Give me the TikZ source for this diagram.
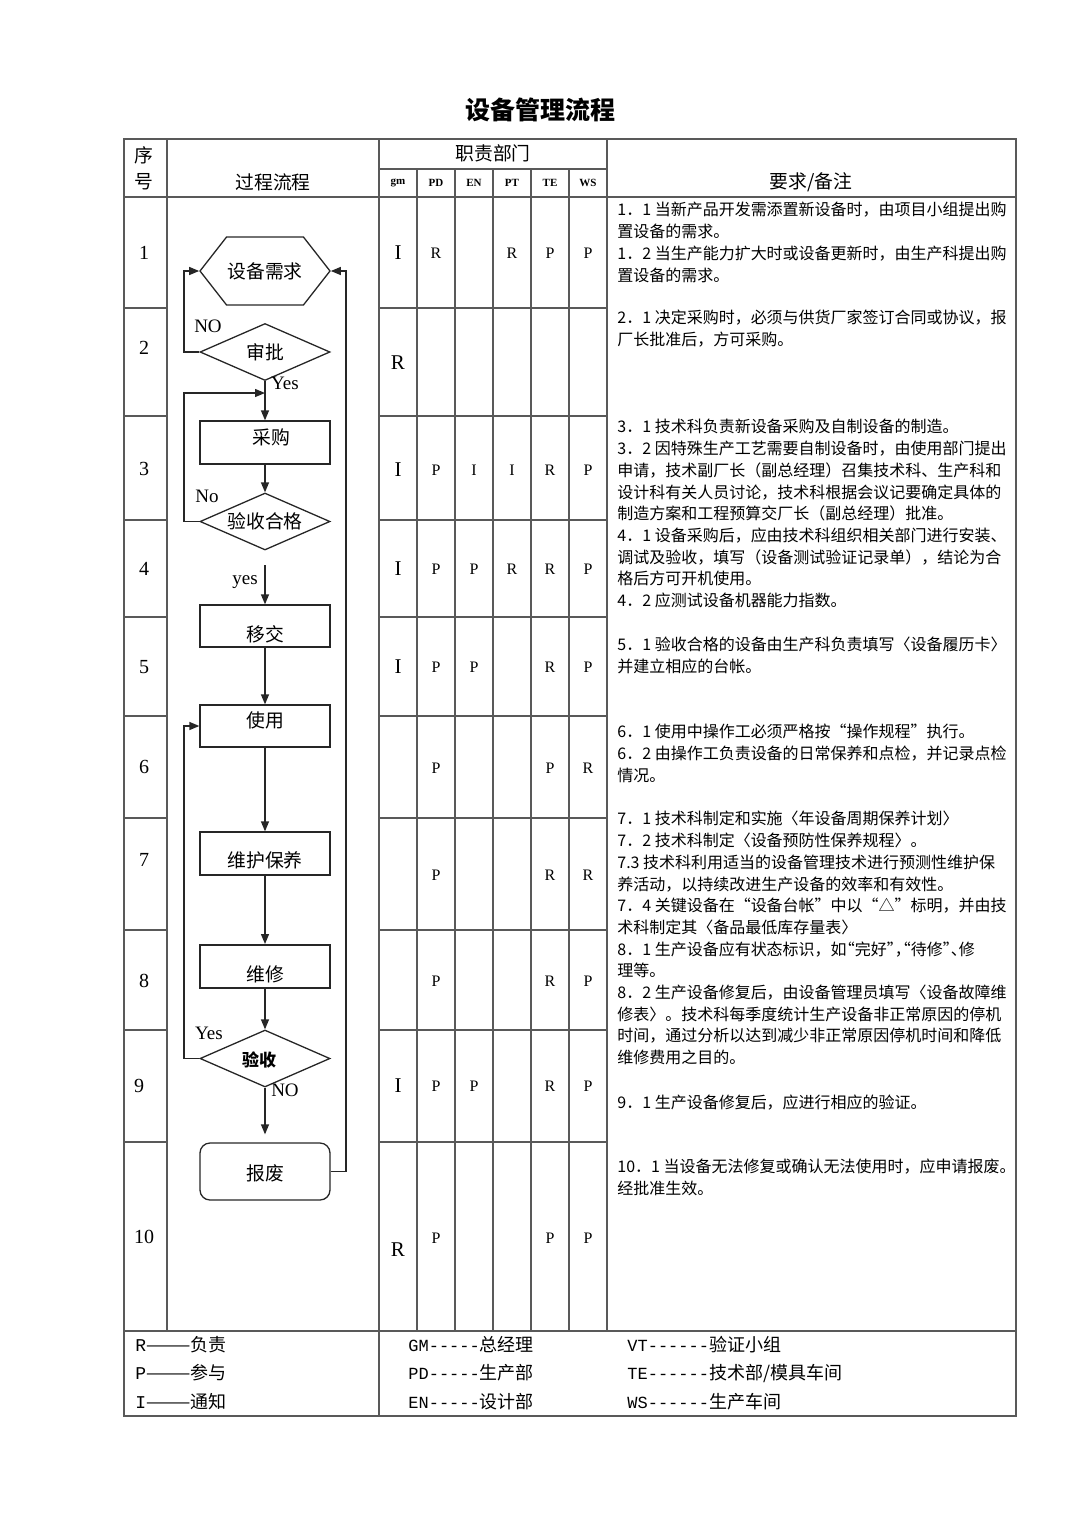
\documentclass[tikz,border=0pt]{standalone}
\usepackage{fontspec}
\setmainfont{Liberation Serif}
\newfontfamily\cjk{Noto Sans CJK SC}
\newfontfamily\lmono[Ligatures=TeXOff]{Liberation Mono}
\usepackage{tikz}
\usetikzlibrary{arrows.meta, shapes.geometric, shapes.symbols}
\newcommand{\boxtxt}[2]{\raisebox{#1}[0.8em][0.2em]{#2}}
\newcommand{\halfpunct}[1]{{\addfontfeature{RawFeature=+halt}#1}}

\begin{document}
\begin{tikzpicture}[x=0.5pt, y=-0.5pt,
  every node/.style={inner sep=0pt},
  tline/.style={draw=black!65, line width=0.6pt},
  flow/.style={draw=black!85, line width=0.65pt},
  arr/.style={flow, -{Triangle[length=5pt, width=4pt]}},
  box/.style={flow, rectangle, minimum width=65pt, minimum height=21.5pt, font=\cjk\fontsize{9.4}{11}\selectfont},
  dec/.style={box, diamond, aspect=2.28, minimum height=28.5pt},
  hexa/.style={box, signal, signal to=west and east, signal pointer angle=104, minimum height=34pt},
  yn/.style={font=\fontsize{9.5}{11}\selectfont},
  head/.style={font=\cjk\fontsize{9.4}{11}\selectfont},
  dept/.style={font=\bfseries\fontsize{5.5}{6}\selectfont},
  num/.style={font=\fontsize{10}{11}\selectfont},
  gmtxt/.style={font=\fontsize{10.5}{12}\selectfont},
  mtxt/.style={font=\fontsize{8}{9}\selectfont},
  note/.style={anchor=north west, align=left, font=\cjk\fontsize{8}{10.85}\selectfont},
  leg/.style={anchor=west, font=\cjk\fontsize{9}{10}\selectfont}]
  \useasboundingbox (0,0) rectangle (1080,1527);

  \node[font=\cjk\bfseries\fontsize{12.5}{14}\selectfont] (title) at (540,110) {设备管理流程};

  % table frame
  \draw[tline] (124,139) rectangle (1016,1416);
  \draw[tline] (167,139) -- (167,1331);
  \draw[tline] (379,139) -- (379,1416);
  \draw[tline] (607,139) -- (607,1331);
  \draw[tline] (379,169) -- (607,169);
  \draw[tline] (124,197) -- (1016,197);
  \draw[tline] (124,1331) -- (1016,1331);
  \foreach \x in {417,455,493,531,569}
    \draw[tline] (\x,169) -- (\x,1331);
  \foreach \y in {308,416,520,617,716,818,930,1030,1142} {
    \draw[tline] (124,\y) -- (167,\y);
    \draw[tline] (379,\y) -- (607,\y);
  }

  % header
  \node[head] (h1) at (144,155) {序};
  \node[head] (h2) at (144,182) {号};
  \node[head] (h3) at (273,182) {过程流程};
  \node[head] (h4) at (493,153) {职责部门};
  \node[head] (h5) at (811,182) {要求/备注};
  \foreach \x/\t [count=\k] in {398/gm,436/PD,474/EN,512/PT,550/TE,588/WS}
    \node[dept] (d\k) at (\x,183) {\t};

  % row numbers
  \foreach \x/\y/\t in {144/253/1,144/348/2,144/469/3,144/569/4,144/667/5,144/767/6,144/860/7,144/981/8,139/1086/9,144/1237/10}
    \node[num] (no\t) at (\x,\y) {\t};

  % responsibility matrix
  \foreach \y/\t [count=\k] in {253/I,363/R,470/I,569/I,667/I,1086/I,1250/R}
    \node[gmtxt] (gm\k) at (398,\y) {\t};
  \foreach \x/\y/\t [count=\k] in {436/253/R,512/253/R,550/253/P,588/253/P,
      436/470/P,474/470/I,512/470/I,550/470/R,588/470/P,
      436/569/P,474/569/P,512/569/R,550/569/R,588/569/P,
      436/667/P,474/667/P,550/667/R,588/667/P,
      436/768/P,550/768/P,588/768/R,
      436/875/P,550/875/R,588/875/R,
      436/981/P,550/981/R,588/981/P,
      436/1086/P,474/1086/P,550/1086/R,588/1086/P,
      436/1238/P,550/1238/P,588/1238/P}
    \node[mtxt] (m\k) at (\x,\y) {\t};

  % flow chart
  \node[hexa] (need) at (265,271) {设备需求};
  \node[dec] (approve) at (265,352) {审批};
  \node[box] (buy) at (265,442.5) {\boxtxt{2pt}{\hspace{6pt}采购}};
  \node[dec] (check) at (265,521.5) {验收合格};
  \node[box, minimum height=21pt] (hand) at (265,626) {\boxtxt{-5pt}{移交}};
  \node[box, minimum height=21pt] (use) at (265,726) {\boxtxt{2pt}{使用}};
  \node[box] (maint) at (265,853.5) {\boxtxt{-4pt}{维护保养}};
  \node[box, line width=1pt] (repair) at (265,966.5) {\boxtxt{-4.5pt}{维修}};
  \node[dec, font=\cjk\bfseries\fontsize{8.5}{10}\selectfont] (accept) at (265,1058.5) {\boxtxt{-1.5pt}{验收\hspace{6pt}}};
  \node[box, rounded corners=5pt, minimum height=28.5pt] (scrap) at (265,1171.5) {\boxtxt{-1.5pt}{报废}};
  \coordinate (backin) at (265,393);
  \coordinate (yesout) at (265,565);

  \draw[arr] (approve.west) -- (184,352) |- (need.west);
  \draw[arr] (approve.south) -- (buy.north);
  \draw[arr] (buy.south) -- (check.north);
  \draw[arr] (check.west) -- (184,521.5) |- (backin);
  \draw[arr] (yesout) -- (hand.north);
  \draw[arr] (hand.south) -- (use.north);
  \draw[arr] (use.south) -- (maint.north);
  \draw[arr] (maint.south) -- (repair.north);
  \draw[arr] (repair.south) -- (accept.north);
  \draw[arr] (accept.west) -- (184,1058.5) |- (use.west);
  \draw[arr, shorten >=4pt] (accept.south) -- (scrap.north);
  \draw[arr] (scrap.east) -- (346,1171.5) |- (need.east);

  \node[yn] (no1) at (208,326) {NO};
  \node[yn] (yes1) at (285,383) {Yes};
  \node[yn] (no2) at (207,496) {No};
  \node[yn] (yes2) at (245,582) {yes};
  \node[yn] (yes3) at (209,1033) {Yes};
  \node[yn] (no3) at (285,1090) {NO};

  % remarks
  \node[note] (r1) at (617,202) {1．1 当新产品开发需添置新设备时，由项目小组提出购\\置设备的需求。\\1．2 当生产能力扩大时或设备更新时，由生产科提出购\\置设备的需求。};
  \node[note] (r2) at (617,310) {2．1 决定采购时，必须与供货厂家签订合同或协议，报\\厂长批准后，方可采购。};
  \node[note] (r3) at (617,419) {3．1 技术科负责新设备采购及自制设备的制造。\\3．2 因特殊生产工艺需要自制设备时，由使用部门提出\\申请，技术副厂长（副总经理）召集技术科、生产科和\\设计科有关人员讨论，技术科根据会议记要确定具体的\\制造方案和工程预算交厂长（副总经理）批准。\\4．1 设备采购后，应由技术科组织相关部门进行安装、\\调试及验收，填写（设备测试验证记录单），结论为合\\格后方可开机使用。\\4．2 应测试设备机器能力指数。};
  \node[note] (r5) at (617,637) {5．1 验收合格的设备由生产科负责填写〈设备履历卡〉\\并建立相应的台帐。};
  \node[note] (r6) at (617,724) {6．1 使用中操作工必须严格按“操作规程”执行。\\6．2 由操作工负责设备的日常保养和点检，并记录点检\\情况。};
  \node[note] (r7) at (617,811) {7．1 技术科制定和实施〈年设备周期保养计划〉\\7．2 技术科制定〈设备预防性保养规程〉。\\7.3 技术科利用适当的设备管理技术进行预测性维护保\\养活动，以持续改进生产设备的效率和有效性。\\7．4 关键设备在“设备台帐”中以“△”标明，并由技\\术科制定其〈备品最低库存量表〉\\8．1 生产设备应有状态标识，如\halfpunct{“完好”，“待修”、}修\\理等。\\8．2 生产设备修复后，由设备管理员填写〈设备故障维\\修表〉。技术科每季度统计生产设备非正常原因的停机\\时间，通过分析以达到减少非正常原因停机时间和降低\\维修费用之目的。};
  \node[note] (r9) at (617,1095) {9．1 生产设备修复后，应进行相应的验证。};
  \node[note] (r10) at (617,1159) {10．1 当设备无法修复或确认无法使用时，应申请报废。\\经批准生效。};

  % legend
  \node[leg] (l1) at (135,1345) {{\lmono R}———负责};
  \node[leg] (l2) at (135,1373) {{\lmono P}———参与};
  \node[leg] (l3) at (135,1402) {{\lmono I}———通知};
  \node[leg] (l4) at (408,1345) {{\lmono\fontsize{8.5}{10}\selectfont GM-----}总经理};
  \node[leg] (l5) at (408,1373) {{\lmono\fontsize{8.5}{10}\selectfont PD-----}生产部};
  \node[leg] (l6) at (408,1402) {{\lmono\fontsize{8.5}{10}\selectfont EN-----}设计部};
  \node[leg] (l7) at (627,1345) {{\lmono\fontsize{8.5}{10}\selectfont VT------}验证小组};
  \node[leg] (l8) at (627,1373) {{\lmono\fontsize{8.5}{10}\selectfont TE------}技术部/模具车间};
  \node[leg] (l9) at (627,1402) {{\lmono\fontsize{8.5}{10}\selectfont WS------}生产车间};
\end{tikzpicture}
\end{document}
